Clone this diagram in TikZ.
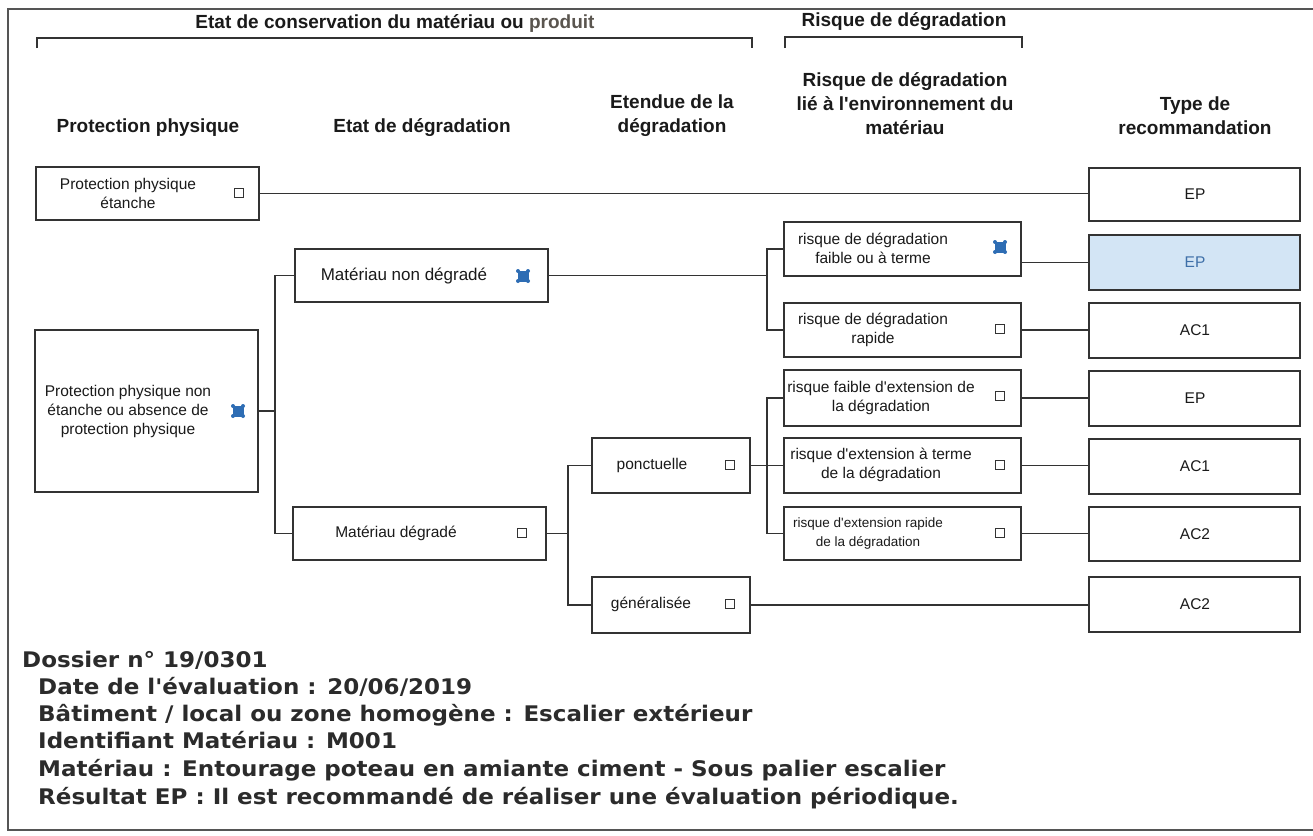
\documentclass[tikz,border=0pt]{standalone}
\usepackage{fontspec}
\setmainfont{Liberation Sans}[Ligatures=TeXOff]
\newfontfamily\botfont{DejaVu Sans}[FakeStretch=1.07]
\definecolor{linec}{HTML}{333333}
\definecolor{txt}{HTML}{1A1A1A}
\definecolor{cbblue}{HTML}{2E6DB4}
\definecolor{epfill}{HTML}{D3E5F5}
\definecolor{eptext}{HTML}{3E6FA8}
\definecolor{framec}{HTML}{555555}
\definecolor{prodc}{HTML}{5A554F}
\definecolor{bottxt}{HTML}{2B2B2B}
\tikzset{
  box/.style={draw=linec, line width=1.5pt, inner sep=0pt, fill=white},
  lbl/.style={font=\fontsize{15.5}{19}\selectfont, align=center, text=txt, inner sep=0pt},
  rec/.style={font=\fontsize{15.5}{19}\selectfont, text=txt, inner sep=0pt},
  hdr/.style={font=\bfseries\fontsize{19}{24}\selectfont, align=center, text=txt, inner sep=0pt},
  cbox/.style={draw=linec, line width=1.1pt, minimum size=9.5pt, inner sep=0pt, fill=white},
  chk/.style={minimum size=14pt, inner sep=0pt, path picture={
      \fill[cbblue] ([shift={(1.5pt,1.5pt)}]path picture bounding box.south west) rectangle ([shift={(-1.5pt,-1.5pt)}]path picture bounding box.north east);
      \fill[cbblue] ([shift={(2pt,2pt)}]path picture bounding box.south west) circle (2pt);
      \fill[cbblue] ([shift={(-2pt,2pt)}]path picture bounding box.south east) circle (2pt);
      \fill[cbblue] ([shift={(2pt,-2pt)}]path picture bounding box.north west) circle (2pt);
      \fill[cbblue] ([shift={(-2pt,-2pt)}]path picture bounding box.north east) circle (2pt);
    }},
  wire/.style={draw=linec, line width=1.6pt},
  bracket/.style={draw=linec, line width=1.5pt},
  bot/.style={font=\botfont\bfseries\fontsize{21.5}{24}\selectfont, text=bottxt, inner sep=0pt, anchor=base west},
}
\newcommand{\mkbox}[5]{\node[box, minimum width={#4-#2}, minimum height={#5-#3}] (#1) at ({(#2+#4)/2},{(#3+#5)/2}) {};}
\begin{document}
\begin{tikzpicture}[x=1pt,y=-1pt]
\useasboundingbox (0,0) rectangle (1313,835);
\fill[white] (0,0) rectangle (1313,835);
% frame
\draw[framec, line width=1.2pt] (1313,9) -- (8,9) -- (8,830) -- (1313,830);

% top headers and brackets
\node[hdr] (hcons) at (395,24) {Etat de conservation du mat\'eriau ou {\color{prodc}produit}};
\draw[bracket] (37,48) -- (37,38) -- (752,38) -- (752,48);
\node[hdr] (hrisk) at (904,22) {Risque de d\'egradation};
\draw[bracket] (785,48) -- (785,37) -- (1022,37) -- (1022,48);

% column headers
\node[hdr] (h1) at (148,128) {Protection physique};
\node[hdr] (h2) at (422,128) {Etat de d\'egradation};
\node[hdr] (h3) at (672,116) {Etendue de la\\d\'egradation};
\node[hdr] (h4) at (905,104) {Risque de d\'egradation\\li\'e \`a l'environnement du\\mat\'eriau};
\node[hdr] (h5) at (1195,116) {Type de\\recommandation};

% boxes
\mkbox{ppe}{36}{167}{259}{220}
\mkbox{ppne}{35}{330}{258}{492}
\mkbox{mnd}{295}{249}{548}{302}
\mkbox{md}{293}{507}{546}{560}
\mkbox{ponct}{592}{438}{750}{493}
\mkbox{gen}{592}{577}{750}{633}
\mkbox{ra}{784}{222}{1021}{276}
\mkbox{rb}{784}{303}{1021}{357}
\mkbox{rc}{784}{370}{1021}{426}
\mkbox{rd}{784}{438}{1021}{493}
\mkbox{re}{784}{507}{1021}{560}
\mkbox{ta}{1089}{168}{1300}{221}
\node[box, fill=epfill, minimum width=211, minimum height=55] (tb) at (1194.5,262.5) {};
\mkbox{tc}{1089}{303}{1300}{358}
\mkbox{td}{1089}{371}{1300}{426}
\mkbox{te}{1089}{439}{1300}{494}
\mkbox{tf}{1089}{507}{1300}{561}
\mkbox{tg}{1089}{577}{1300}{632}

% box labels
\node[lbl] (lppe) at (128,193) {Protection physique\\\'etanche};
\node[lbl] (lppne) at (128,411) {Protection physique non\\\'etanche ou absence de\\protection physique};
\node[lbl, font=\fontsize{17}{20}\selectfont] (lmnd) at (404,276) {Mat\'eriau non d\'egrad\'e};
\node[lbl] (lmd) at (396,533) {Mat\'eriau d\'egrad\'e};
\node[lbl] (lponct) at (652,465) {ponctuelle};
\node[lbl] (lgen) at (651,604) {g\'en\'eralis\'ee};
\node[lbl] (lra) at (873,248) {risque de d\'egradation\\faible ou \`a terme};
\node[lbl] (lrb) at (873,330) {risque de d\'egradation\\rapide};
\node[lbl] (lrc) at (881,398) {risque faible d'extension de\\la d\'egradation};
\node[lbl] (lrd) at (881,465) {risque d'extension \`a terme\\de la d\'egradation};
\node[lbl, font=\fontsize{13.5}{19}\selectfont] (lre) at (868,534) {risque d'extension rapide\\de la d\'egradation};
\node[rec] (lta) at (1195,194) {EP};
\node[rec, text=eptext] (ltb) at (1195,262) {EP};
\node[rec] (ltc) at (1195,330) {AC1};
\node[rec] (ltd) at (1195,398) {EP};
\node[rec] (lte) at (1195,466) {AC1};
\node[rec] (ltf) at (1195,534) {AC2};
\node[rec] (ltg) at (1195,604) {AC2};

% checkboxes
\node[cbox] (cppe) at (239,193) {};
\node[chk] (cppne) at (238,411) {};
\node[chk] (cmnd) at (523,276) {};
\node[cbox] (cmd) at (522,533) {};
\node[cbox] (cponct) at (730,465) {};
\node[cbox] (cgen) at (730,604) {};
\node[chk] (cra) at (1000,247) {};
\node[cbox] (crb) at (1000,329) {};
\node[cbox] (crc) at (1000,396) {};
\node[cbox] (crd) at (1000,465) {};
\node[cbox] (cre) at (1000,533) {};

% branch coordinates
\coordinate (bx1) at (275,0);
\coordinate (bx2) at (767,0);
\coordinate (bx3) at (568,0);

% connectors
\draw[wire] (ppe.east) -- (ppe.east -| ta.west);
\draw[wire] (ppne.east) -- (ppne.east -| bx1);
\draw[wire] (mnd.west) -- (mnd.west -| bx1) -- (md.west -| bx1) -- (md.west);
\draw[wire] (mnd.east) -- (mnd.east -| bx2);
\draw[wire] (ra.west) -- (ra.west -| bx2) -- (rb.west -| bx2) -- (rb.west);
\draw[wire] (tb.west) -- (tb.west -| ra.east);
\draw[wire] (rb.east) -- (rb.east -| tc.west);
\draw[wire] (md.east) -- (md.east -| bx3);
\draw[wire] (ponct.west) -- (ponct.west -| bx3) -- (gen.west -| bx3) -- (gen.west);
\draw[wire] (ponct.east) -- (rd.west);
\draw[wire] (rc.west) -- (rc.west -| bx2) -- (re.west -| bx2) -- (re.west);
\draw[wire] (rc.east) -- (rc.east -| td.west);
\draw[wire] (rd.east) -- (rd.east -| te.west);
\draw[wire] (re.east) -- (re.east -| tf.west);
\draw[wire] (gen.east) -- (gen.east -| tg.west);

% bottom text
\node[bot] (d1) at (22,667) {Dossier n° 19/0301};
\node[bot] (d2) at (38,694) {Date de l'\'evaluation : 20/06/2019};
\node[bot] (d3) at (38,721) {B\^atiment / local ou zone homog\`ene : Escalier ext\'erieur};
\node[bot] (d4) at (38,748) {Identifiant Mat\'eriau : M001};
\node[bot] (d5) at (38,776) {Mat\'eriau : Entourage poteau en amiante ciment - Sous palier escalier};
\node[bot] (d6) at (38,804) {R\'esultat EP : Il est recommand\'e de r\'ealiser une \'evaluation p\'eriodique.};
\end{tikzpicture}
\end{document}
